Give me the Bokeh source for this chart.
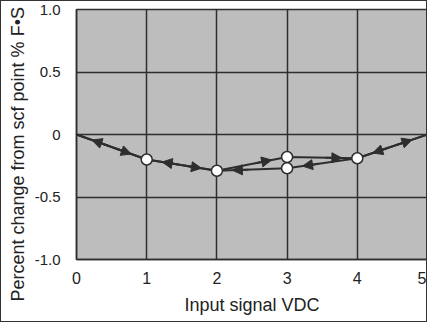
from bokeh.plotting import figure
from bokeh.models import (Range1d, FixedTicker, Arrow, NormalHead, ColumnDataSource, Title)
from bokeh.embed import file_html
from bokeh.resources import INLINE

# Data
up_x = [0, 1, 2, 3, 4, 5]
up_y = [0.0, -0.20, -0.29, -0.18, -0.19, 0.0]
down_x = [5, 4, 3, 2, 1, 0]
down_y = [0.0, -0.19, -0.27, -0.29, -0.20, 0.0]
pt_x = [1, 2, 3, 3, 4]
pt_y = [-0.20, -0.29, -0.18, -0.27, -0.19]
x_ticks = [0, 1, 2, 3, 4, 5]
y_ticks = [-1.0, -0.5, 0, 0.5, 1.0]
y_tick_labels = ["-1.0", "-0.5", "0", "0.5", "1.0"]
x_title = "Input signal VDC"
y_title = "Percent change from scf point % F•S"

FONT = "Liberation Sans"
DARK = "#2e2e2e"

p = figure(width=427, height=322, output_backend="svg", toolbar_location=None,
           x_range=Range1d(0, 5), y_range=Range1d(-1.0, 1.0),
           min_border_left=2, min_border_right=1, min_border_top=8, min_border_bottom=64)
p.background_fill_color = "#bdbdbd"
p.border_fill_color = "white"
p.outline_line_color = DARK
p.outline_line_width = 1.5

p.xaxis.ticker = FixedTicker(ticks=x_ticks)
p.yaxis.ticker = FixedTicker(ticks=y_ticks)
p.yaxis.major_label_overrides = {t: l for t, l in zip(y_ticks, y_tick_labels)}
for ax in (p.xaxis, p.yaxis):
    ax.major_tick_line_color = None
    ax.minor_tick_line_color = None
    ax.axis_line_color = DARK
    ax.axis_line_width = 1.5
    ax.major_label_text_font = FONT
    ax.major_label_text_color = "#222"
    ax.axis_label_text_font = FONT
    ax.axis_label_text_font_size = "18px"
    ax.axis_label_text_font_style = "normal"
    ax.axis_label_text_color = "#222"
p.xaxis.major_label_text_font_size = "16px"
p.yaxis.major_label_text_font_size = "15px"
p.xaxis.axis_label = x_title
p.xaxis.major_label_standoff = 6
p.xaxis.axis_label_standoff = 8
p.yaxis.major_label_standoff = 10

p.grid.grid_line_color = DARK
p.grid.grid_line_width = 1.5
p.grid.grid_line_alpha = 1.0

p.line(up_x, up_y, line_color=DARK, line_width=2)
p.line(down_x, down_y, line_color=DARK, line_width=2)

# Arrow heads along each travel direction
def heads(xs, ys, f0=0.55, f1=0.78):
    xs0, ys0, xs1, ys1 = [], [], [], []
    for i in range(len(xs) - 1):
        x0, y0, x1, y1 = xs[i], ys[i], xs[i + 1], ys[i + 1]
        xs0.append(x0 + (x1 - x0) * f0); ys0.append(y0 + (y1 - y0) * f0)
        xs1.append(x0 + (x1 - x0) * f1); ys1.append(y0 + (y1 - y0) * f1)
    return ColumnDataSource(dict(x0=xs0, y0=ys0, x1=xs1, y1=ys1))

for xs, ys in ((up_x, up_y), (down_x, down_y)):
    src = heads(xs, ys)
    p.add_layout(Arrow(end=NormalHead(size=10, fill_color=DARK, line_color=DARK, line_width=1),
                       x_start="x0", y_start="y0", x_end="x1", y_end="y1", source=src,
                       line_color=DARK, line_width=2))

p.scatter(pt_x, pt_y, size=11, fill_color="white", line_color=DARK, line_width=1.5)

# Y-axis title as a left-side title, starting below the frame as in the original
p.add_layout(Title(text=y_title, align="left", offset=-42, standoff=8,
                   text_font=FONT, text_font_size="18px", text_font_style="normal",
                   text_color="#222"), "left")

p.styles = {"border": "1px solid #333", "box-sizing": "border-box"}

open("out.html", "w").write(file_html(p, INLINE))
